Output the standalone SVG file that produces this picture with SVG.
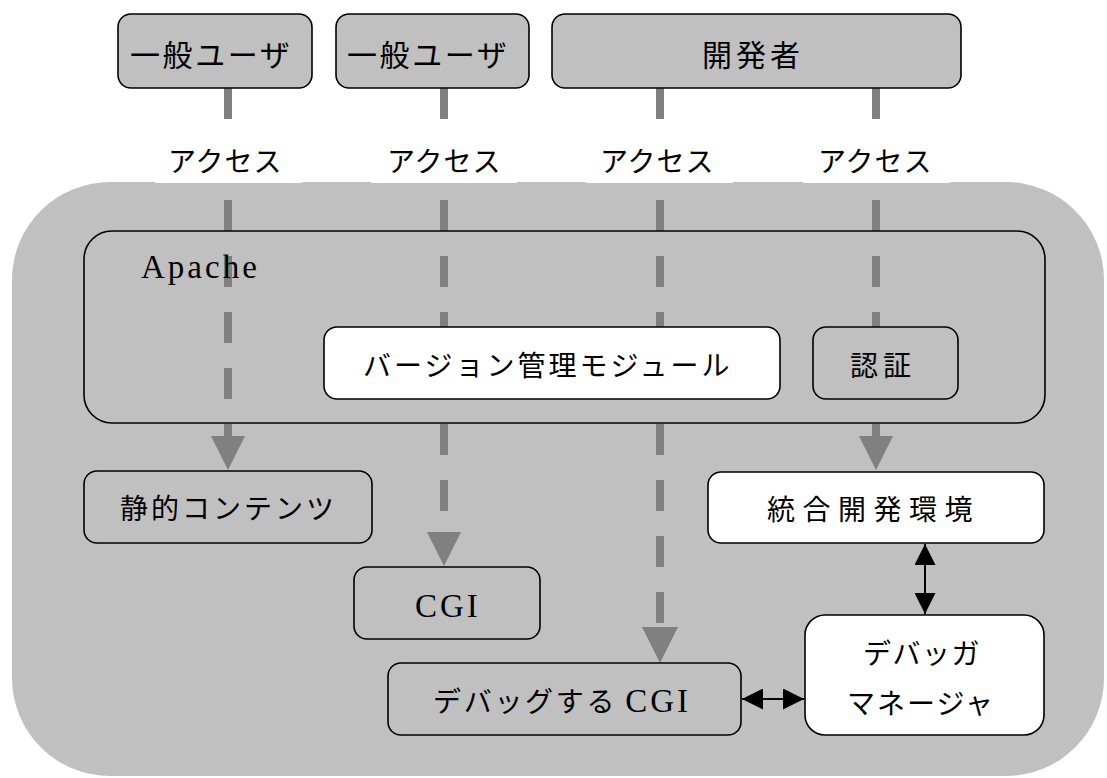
<svg xmlns="http://www.w3.org/2000/svg" width="1107" height="778" viewBox="0 0 1107 778">
<defs>
<style>
.bg{fill:#c0c0c0}
.g{fill:#c0c0c0;stroke:#000;stroke-width:1.6}
.w{fill:#fff;stroke:#000;stroke-width:1.6}
.jp{font-family:"Noto Sans CJK JP","Noto Sans",sans-serif;font-size:28px;fill:#000}
.se{font-family:"Liberation Serif","DejaVu Serif",serif;font-size:33px;fill:#000;letter-spacing:3px}
.dash{stroke:#808080;stroke-width:8;stroke-dasharray:31 25;fill:none}
.head{fill:#808080}
.bi{stroke:#000;stroke-width:2;fill:none;marker-start:url(#ah);marker-end:url(#ah)}
.lab{fill:#fff}
</style>
<marker id="ah" viewBox="0 0 20 20" refX="20" refY="10" markerWidth="21" markerHeight="21" markerUnits="userSpaceOnUse" orient="auto-start-reverse">
<path d="M0,0 L20,10 L0,20 z" fill="#000"/>
</marker>
</defs>
<rect width="1107" height="778" fill="#fff"/>
<rect class="bg" x="12" y="182" width="1092" height="594" rx="98"/>

<g id="connectors">
<line class="dash" x1="228" y1="88" x2="228" y2="437"/>
<polygon class="head" points="211,436 245,436 228,470"/>
<line class="dash" x1="444" y1="88" x2="444" y2="533"/>
<polygon class="head" points="427,532 461,532 444,566"/>
<line class="dash" x1="660" y1="88" x2="660" y2="628"/>
<polygon class="head" points="642,627 678,627 660,663"/>
<line class="dash" x1="876" y1="88" x2="876" y2="437"/>
<polygon class="head" points="859,436 893,436 876,470"/>
<line class="bi" x1="925" y1="544" x2="925" y2="614"/>
<line class="bi" x1="742" y1="699" x2="804" y2="699"/>
</g>

<g id="labels">
<rect class="lab" x="155" y="122" width="147" height="61"/>
<text class="jp" x="168" y="172" style="letter-spacing:1px">アクセス</text>
<rect class="lab" x="371" y="122" width="146" height="61"/>
<text class="jp" x="387" y="172" style="letter-spacing:1px">アクセス</text>
<rect class="lab" x="586" y="122" width="147" height="61"/>
<text class="jp" x="600" y="172" style="letter-spacing:1px">アクセス</text>
<rect class="lab" x="803" y="122" width="147" height="61"/>
<text class="jp" x="818" y="172" style="letter-spacing:1px">アクセス</text>
</g>

<g id="user1">
<rect class="g" x="118" y="14" width="194" height="74" rx="13"/>
<text class="jp" x="130" y="66" style="font-size:30px;letter-spacing:2.6px">一般ユーザ</text>
</g>
<g id="user2">
<rect class="g" x="336" y="14" width="193" height="74" rx="13"/>
<text class="jp" x="347" y="66" style="font-size:30px;letter-spacing:2.6px">一般ユーザ</text>
</g>
<g id="developer">
<rect class="g" x="552" y="14" width="409" height="74" rx="13"/>
<text class="jp" x="702" y="66" style="font-size:30px;letter-spacing:4px">開発者</text>
</g>

<g id="apache">
<rect class="g" x="84" y="231" width="961" height="192" rx="28" fill-opacity="0"/>
<text class="se" x="141" y="278">Apache</text>
</g>
<g id="version">
<rect class="w" x="324" y="327" width="456" height="72" rx="13"/>
<text class="jp" x="363" y="376" style="letter-spacing:3px">バージョン管理モジュール</text>
</g>
<g id="auth">
<rect class="g" x="813" y="327" width="145" height="72" rx="13"/>
<text class="jp" x="850" y="376" style="letter-spacing:5px">認証</text>
</g>
<g id="static">
<rect class="g" x="84" y="471" width="288" height="72" rx="13"/>
<text class="jp" x="120" y="519" style="letter-spacing:3px">静的コンテンツ</text>
</g>
<g id="ide">
<rect class="w" x="708" y="472" width="336" height="71" rx="13"/>
<text class="jp" x="767" y="520" style="letter-spacing:7.5px">統合開発環境</text>
</g>
<g id="cgi">
<rect class="g" x="354" y="567" width="186" height="72" rx="13"/>
<text class="se" x="415" y="617">CGI</text>
</g>
<g id="debugcgi">
<rect class="g" x="388" y="663" width="353" height="72" rx="13"/>
<text class="jp" x="433" y="712" style="letter-spacing:2.7px">デバッグする<tspan class="se" style="font-size:33px;letter-spacing:3px" dx="8">CGI</tspan></text>
</g>
<g id="debugger">
<rect class="w" x="805" y="615" width="239" height="120" rx="20"/>
<text class="jp" x="863" y="664" style="letter-spacing:1.5px">デバッガ</text>
<text class="jp" x="847" y="714" style="letter-spacing:2px">マネージャ</text>
</g>
</svg>
